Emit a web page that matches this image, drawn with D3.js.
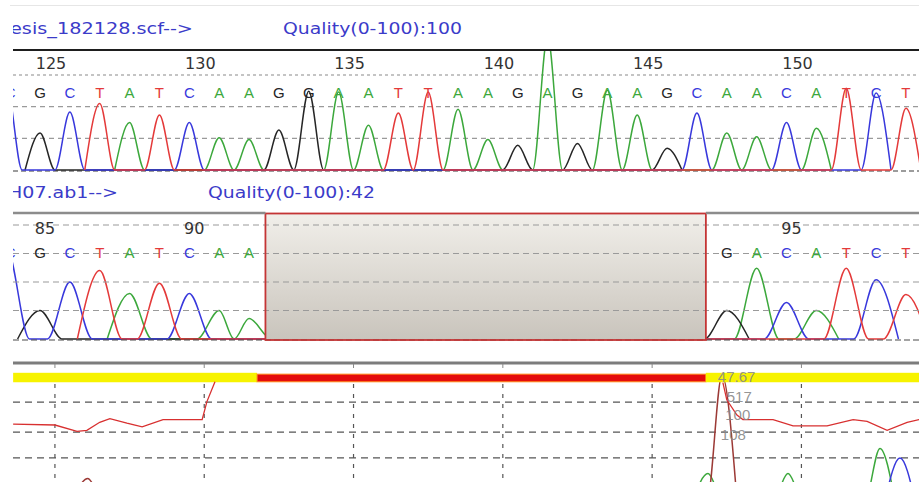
<svg id="svg" width="919" height="482"></svg>
<script src="https://cdn.jsdelivr.net/npm/d3@7"></script>
<script>
    // ---- first read (reference) ----
    var topName = "esis_182128.scf-->";
    var topQuality = "Quality(0-100):100";
    var topFirstBase = 124;
    var topBases = "CGCTATCAAGGAATTAAGAGAAGCAACATCT";
    var topTicks = [125, 130, 135, 140, 145, 150];
    // peaks per channel: [base position, signal 0-100]
    var topA = [[128, 50], [131, 34], [132, 32], [135, 82], [136, 47], [139, 64], [140, 32], [142, 140],
                [144, 84], [145, 58], [148, 39], [149, 35], [151, 44]];
    var topC = [[123.9, 85], [126, 61], [130, 50], [147, 60], [150, 50], [153, 81]];
    var topG = [[125, 39], [133, 42], [134, 83], [141, 26], [143, 28], [146, 23]];
    var topT = [[127, 70], [129, 58], [137, 60], [138, 82], [152, 86], [154, 65]];

    // ---- second read ----
    var botName = "H07.ab1-->";
    var botQuality = "Quality(0-100):42";
    var botFirstBase = 84;
    var botBases = "CGCTATCAAGACATCT";
    var botTicks = [85, 90, 95];
    var botColumnOffset = 40;
    var botGapAfter = 92;
    var botGapColumns = 15;
    var botA = [[88, 40], [91, 25], [92, 18], [94, 62], [96, 25]];
    var botC = [[83.9, 78], [86, 50], [90, 40], [95, 32], [98, 52]];
    var botG = [[85, 25], [93, 25]];
    var botT = [[87, 60], [89, 49], [97, 62], [99, 39]];

    // ---- comparison panel (alignment columns) ----
    var gapBox = [132.55, 147.3];
    var qualitySegments = [[124.1, 132.27, "ok"], [132.27, 147.3, "bad"], [147.3, 156, "ok"]];
    var simLeft = [[124.1, 51], [125.5, 50], [126.24, 43], [126.57, 44], [127.0, 53], [127.34, 57], [127.91, 52],
                   [128.42, 48], [129.12, 56], [130.43, 56], [130.59, 76], [130.86, 98]];
    var simRight = [[147.87, 97], [148.0, 78], [148.34, 61], [148.54, 56], [149.55, 56], [150.22, 49], [151.36, 49],
                    [152.23, 56], [152.7, 54], [153.37, 44], [154.04, 53], [154.44, 56]];
    var qualityGrid = [75.5, 42, 13.5];
    var thirdA = [[147.37, 22], [150.05, 22], [153.13, 43]];
    var thirdC = [[153.8, 35]];
    var thirdT = [[126.6, 18], [147.84, 104]];
    var peakLabels = ["47.67", "517", "100", "108"];

    var colors = { A: "#3ca83c", C: "#3838dc", G: "#262626", T: "#e43a3a" };

    var svg = d3.select("#svg");
    var defs = svg.append("defs");

    var x = d3.scaleLinear().domain([125, 150]).range([40, 786.5]);
    var y1 = d3.scaleLinear().domain([0, 100]).range([170, 75]);
    var y2 = d3.scaleLinear().domain([0, 100]).range([339, 225]);
    var yQ = d3.scaleLinear().domain([0, 100]).range([470, 380]);

    // base number of the second read -> alignment column
    function col(p) { return p + botColumnOffset + (p > botGapAfter + 0.5 ? botGapColumns : 0); }
    function toCols(peaks) { return peaks.map(function (p) { return [col(p[0]), p[1]]; }); }

    function clip(id, x0, y0, x1, y1_) {
        defs.append("clipPath").attr("id", id).append("rect")
            .attr("x", x0).attr("y", y0).attr("width", x1 - x0).attr("height", y1_ - y0);
        return "url(#" + id + ")";
    }

    function peakPoints(peaks, w) {
        var pts = [];
        peaks.forEach(function (p, i) {
            var prev = peaks[i - 1];
            if (prev && prev[0] + w >= p[0] - w) {
                pts.pop();
                pts.push([(prev[0] + p[0]) / 2, 0]);
            } else {
                pts.push([p[0] - w, 0]);
            }
            pts.push(p);
            pts.push([p[0] + w, 0]);
        });
        return pts;
    }

    function drawTrace(g, peaks, w, yf, color, width) {
        var line = d3.line()
            .x(function (d) { return x(d[0]); })
            .y(function (d) { return yf(d[1]); })
            .curve(d3.curveMonotoneX);
        g.append("path")
            .attr("d", line(peakPoints(peaks, w)))
            .attr("fill", "none")
            .attr("stroke", color)
            .attr("stroke-width", width || 1.5);
    }

    function hDash(g, yy, color, dash) {
        g.append("line")
            .attr("x1", 13).attr("x2", 919)
            .attr("y1", yy).attr("y2", yy)
            .attr("stroke", color).attr("stroke-width", 1.2)
            .attr("stroke-dasharray", dash);
    }

    var textClip = clip("textclip", 13, 0, 919, 482);

    // faint top border
    svg.append("line").attr("x1", 10).attr("x2", 919).attr("y1", 5.5).attr("y2", 5.5)
        .attr("stroke", "#e6e6e6").attr("stroke-width", 1);

    // ---------- headers ----------
    var headers = svg.append("g").attr("clip-path", textClip)
        .style("font-family", "DejaVu Sans, sans-serif").style("font-size", "15px").attr("fill", "#3b3bc9");
    headers.append("text").attr("x", 10).attr("y", 34).attr("textLength", 183)
        .attr("lengthAdjust", "spacingAndGlyphs").text(topName);
    headers.append("text").attr("x", 283).attr("y", 34).attr("textLength", 179)
        .attr("lengthAdjust", "spacingAndGlyphs").text(topQuality);
    headers.append("text").attr("x", 8).attr("y", 198).attr("textLength", 110)
        .attr("lengthAdjust", "spacingAndGlyphs").text(botName);
    headers.append("text").attr("x", 208).attr("y", 198).attr("textLength", 167)
        .attr("lengthAdjust", "spacingAndGlyphs").text(botQuality);

    // ---------- top trace ----------
    var topPanel = svg.append("g");
    topPanel.append("line").attr("x1", 13).attr("x2", 919).attr("y1", 50).attr("y2", 50)
        .attr("stroke", "#1e1e1e").attr("stroke-width", 2);
    hDash(topPanel, y1(100), "#8a8a8a", "3,3");
    hDash(topPanel, y1(66.7), "#9a9a9a", "5,4");
    hDash(topPanel, y1(33.3), "#9a9a9a", "5,4");
    hDash(topPanel, y1(0) + 1, "#3a3a3a", "5,3");

    topPanel.append("g").selectAll("text").data(topTicks).enter().append("text")
        .attr("x", function (d) { return x(d) + 11; })
        .attr("y", 69)
        .attr("text-anchor", "middle")
        .style("font-family", "DejaVu Sans, sans-serif").style("font-size", "16px")
        .attr("fill", "#333")
        .text(function (d) { return d; });

    var topTraces = topPanel.append("g").attr("clip-path", clip("topclip", 13, 51, 919, 172));
    drawTrace(topTraces, topA, 0.5, y1, colors.A);
    drawTrace(topTraces, topG, 0.5, y1, colors.G);
    drawTrace(topTraces, topC, 0.5, y1, colors.C);
    drawTrace(topTraces, topT, 0.5, y1, colors.T);

    topPanel.append("g").attr("clip-path", textClip).selectAll("text")
        .data(topBases.split("")).enter().append("text")
        .attr("x", function (d, i) { return x(topFirstBase + i); })
        .attr("y", 98)
        .attr("text-anchor", "middle")
        .style("font-family", "Liberation Sans, Arial, sans-serif").style("font-size", "15px")
        .attr("fill", function (d) { return colors[d]; })
        .text(function (d) { return d; });

    // ---------- second trace ----------
    var botPanel = svg.append("g");
    var botTraces = botPanel.append("g").attr("clip-path", clip("botclip", 13, 214, 919, 341));
    drawTrace(botTraces, toCols(botA), 0.75, y2, colors.A);
    drawTrace(botTraces, toCols(botG), 0.75, y2, colors.G);
    drawTrace(botTraces, toCols(botC), 0.75, y2, colors.C);
    drawTrace(botTraces, toCols(botT), 0.75, y2, colors.T);

    var grad = defs.append("linearGradient").attr("id", "gapfill")
        .attr("x1", 0).attr("x2", 0).attr("y1", 0).attr("y2", 1);
    grad.append("stop").attr("offset", "0%").attr("stop-color", "#f1efea");
    grad.append("stop").attr("offset", "100%").attr("stop-color", "#c9c4bc");
    botPanel.append("rect")
        .attr("x", x(gapBox[0])).attr("y", 213)
        .attr("width", x(gapBox[1]) - x(gapBox[0])).attr("height", 127)
        .attr("fill", "url(#gapfill)");

    [100, 75, 50, 25].forEach(function (v) { hDash(botPanel, y2(v), "#9a9a9a", "6,4"); });
    hDash(botPanel, y2(0) + 1, "#4a4a4a", "6,3");

    botPanel.append("rect")
        .attr("x", x(gapBox[0])).attr("y", 213.5)
        .attr("width", x(gapBox[1]) - x(gapBox[0])).attr("height", 126.5)
        .attr("fill", "none").attr("stroke", "#c43535").attr("stroke-width", 1.8);

    botPanel.append("line").attr("x1", 13).attr("x2", x(gapBox[0])).attr("y1", 213).attr("y2", 213)
        .attr("stroke", "#8c8c8c").attr("stroke-width", 2.5);
    botPanel.append("line").attr("x1", x(gapBox[1])).attr("x2", 919).attr("y1", 213).attr("y2", 213)
        .attr("stroke", "#8c8c8c").attr("stroke-width", 2.5);

    botPanel.append("g").selectAll("text").data(botTicks).enter().append("text")
        .attr("x", function (d) { return x(col(d)) + 5; })
        .attr("y", 234)
        .attr("text-anchor", "middle")
        .style("font-family", "DejaVu Sans, sans-serif").style("font-size", "16px")
        .attr("fill", "#333")
        .text(function (d) { return d; });

    botPanel.append("g").attr("clip-path", textClip).selectAll("text")
        .data(botBases.split("")).enter().append("text")
        .attr("x", function (d, i) { return x(col(botFirstBase + i)); })
        .attr("y", 258)
        .attr("text-anchor", "middle")
        .style("font-family", "Liberation Sans, Arial, sans-serif").style("font-size", "15px")
        .attr("fill", function (d) { return colors[d]; })
        .text(function (d) { return d; });

    // ---------- comparison panel ----------
    var cmpPanel = svg.append("g");
    var gridCols = topTicks.map(function (t) { return t + 0.5; });

    cmpPanel.append("line").attr("x1", 13).attr("x2", 919).attr("y1", 363).attr("y2", 363)
        .attr("stroke", "#7c7c7c").attr("stroke-width", 3);
    cmpPanel.selectAll(".tk").data(gridCols).enter().append("line")
        .attr("x1", function (d) { return x(d); }).attr("x2", function (d) { return x(d); })
        .attr("y1", 364).attr("y2", 368)
        .attr("stroke", "#8a8a8a").attr("stroke-width", 1);
    cmpPanel.selectAll(".vg").data(gridCols).enter().append("line")
        .attr("x1", function (d) { return x(d); }).attr("x2", function (d) { return x(d); })
        .attr("y1", 384).attr("y2", 482)
        .attr("stroke", "#555").attr("stroke-width", 1.2)
        .attr("stroke-dasharray", "4,6");
    qualityGrid.forEach(function (v) { hDash(cmpPanel, yQ(v), "#555", "7,5"); });

    var third = cmpPanel.append("g").attr("clip-path", clip("thirdclip", 13, 365, 919, 482));
    var y3 = d3.scaleLinear().domain([0, 100]).range([500, 380]);
    drawTrace(third, thirdA, 0.5, y3, colors.A);
    drawTrace(third, thirdC, 0.5, y3, colors.C);
    drawTrace(third, thirdT, 0.5, y3, "#9c3a36");

    cmpPanel.selectAll(".qb").data(qualitySegments).enter().append("rect")
        .attr("x", function (d) { return x(d[0]); })
        .attr("width", function (d) { return x(d[1]) - x(d[0]); })
        .attr("y", function (d) { return d[2] === "bad" ? yQ(106.5) : yQ(108); })
        .attr("height", function (d) { return d[2] === "bad" ? yQ(98) - yQ(106.5) : yQ(97.5) - yQ(108); })
        .attr("fill", function (d) { return d[2] === "bad" ? "#e40c0c" : "#f7f300"; })
        .attr("stroke", function (d) { return d[2] === "bad" ? "#ff8a1a" : "none"; })
        .attr("stroke-width", 1);

    var simLine = d3.line()
        .x(function (d) { return x(d[0]); })
        .y(function (d) { return yQ(d[1]); });
    [simLeft, simRight].forEach(function (s) {
        cmpPanel.append("path").attr("d", simLine(s))
            .attr("fill", "none").attr("stroke", "#d83030").attr("stroke-width", 1.3);
    });

    var labelRows = [382, 402, 420, 440];
    var labelCols = [147.7, 148.0, 147.95, 147.8];
    cmpPanel.selectAll(".pl").data(peakLabels).enter().append("text")
        .attr("x", function (d, i) { return x(labelCols[i]); })
        .attr("y", function (d, i) { return labelRows[i]; })
        .style("font-family", "Liberation Sans, Arial, sans-serif").style("font-size", "15px")
        .attr("fill", "#888").attr("fill-opacity", 0.9)
        .text(function (d) { return d; });
</script>
<style>
    html,
    body {
        margin: 0;
        padding: 0;
        background: #fff;
    }
</style>
